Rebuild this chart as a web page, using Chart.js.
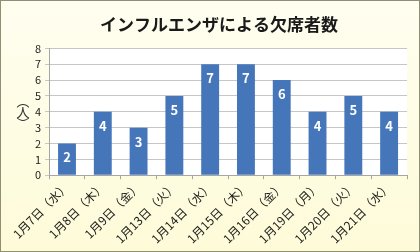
<!DOCTYPE html>
<html lang="ja">
<head>
<meta charset="UTF-8">
<title>インフルエンザによる欠席者数</title>
<script src="https://cdn.jsdelivr.net/npm/chart.js@4.4.1/dist/chart.umd.min.js"></script>
<style>
  html, body { margin: 0; padding: 0; background: #ffffff; }
  #wrap {
    width: 418px; height: 250px;
    border: 1px solid #8f8f74;
    background: linear-gradient(180deg, #fffef0 0%, #fdfbd8 100%);
  }
</style>
</head>
<body>
<div id="wrap"><canvas id="c" width="418" height="250"></canvas></div>
<script>
// データ
const days = ['1月7日（水）', '1月8日（木）', '1月9日（金）', '1月13日（火）', '1月14日（水）',
              '1月15日（木）', '1月16日（金）', '1月19日（月）', '1月20日（火）', '1月21日（水）'];
const absentees = [2, 4, 3, 5, 7, 7, 6, 4, 5, 4];
const yTicks = [0, 1, 2, 3, 4, 5, 6, 7, 8];
const yUnit = ['︵', '人', '︶'];

const jpFont = "'Noto Sans CJK JP', sans-serif";

// プロットエリアの白背景と値ラベル
const plotDeco = {
  id: 'plotDeco',
  beforeDraw(chart) {
    const { ctx, chartArea: a } = chart;
    ctx.save();
    ctx.fillStyle = '#ffffff';
    ctx.fillRect(a.left, a.top, a.right - a.left, a.bottom - a.top);
    ctx.restore();
  },
  afterDatasetsDraw(chart) {
    const { ctx } = chart;
    const meta = chart.getDatasetMeta(0);
    ctx.save();
    ctx.fillStyle = '#ffffff';
    ctx.font = 'bold 13px ' + jpFont;
    ctx.textAlign = 'center';
    ctx.textBaseline = 'middle';
    meta.data.forEach((bar, i) => {
      ctx.fillText(String(absentees[i]), bar.x, bar.y + 14);
    });
    // 縦書きの単位
    ctx.fillStyle = '#333333';
    ctx.font = '13px ' + jpFont;
    const midY = (chart.chartArea.top + chart.chartArea.bottom) / 2;
    yUnit.forEach((ch, i) => {
      ctx.fillText(ch, 22, midY + (i - 1) * 11);
    });
    ctx.restore();
  }
};

new Chart(document.getElementById('c'), {
  type: 'bar',
  data: {
    labels: days,
    datasets: [{
      data: absentees,
      backgroundColor: '#4676ba',
      categoryPercentage: 1.0,
      barPercentage: 0.5
    }]
  },
  options: {
    responsive: false,
    animation: false,
    layout: { padding: { left: 30, right: 12, top: 0, bottom: 5 } },
    plugins: {
      legend: { display: false },
      tooltip: { enabled: false },
      title: {
        display: true,
        text: 'インフルエンザによる欠席者数',
        color: '#1a1a1a',
        font: { family: jpFont, size: 17, weight: 'bold' },
        padding: { top: 13, bottom: 14 }
      }
    },
    scales: {
      x: {
        grid: { offset: true, drawOnChartArea: false, drawTicks: true, tickLength: 4, color: '#a6a6a6' },
        border: { color: '#a6a6a6' },
        ticks: {
          color: '#1a1a1a',
          minRotation: 45, maxRotation: 45,
          autoSkip: false,
          font: { family: jpFont, size: 12 },
          padding: 0
        }
      },
      y: {
        min: 0, max: 8,
        afterBuildTicks(axis) { axis.ticks = yTicks.map(v => ({ value: v })); },
        grid: { color: '#c6c6c6', tickLength: 4 },
        border: { color: '#a6a6a6' },
        ticks: { color: '#1a1a1a', autoSkip: false, font: { family: jpFont, size: 11 }, padding: 4 }
      }
    }
  },
  plugins: [plotDeco]
});
</script>
</body>
</html>
